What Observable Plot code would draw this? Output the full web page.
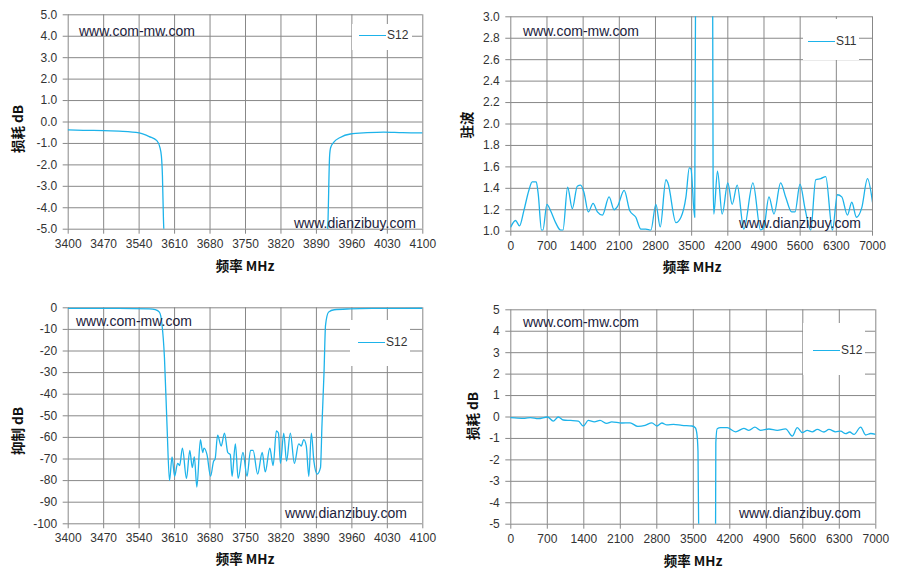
<!DOCTYPE html>
<html><head><meta charset="utf-8">
<script src="https://cdn.jsdelivr.net/npm/d3@7"></script>
<script src="https://cdn.jsdelivr.net/npm/@observablehq/plot@0.6"></script>
<style>
html,body{margin:0;padding:0;background:#fff;}
#root{position:relative;width:899px;height:578px;background:#fff;overflow:hidden;font-family:"Liberation Sans",Arial,sans-serif;}
.pan{position:absolute;}
.wm{position:absolute;font-family:"Liberation Sans",Arial,sans-serif;font-size:14px;color:#1c1c3c;white-space:nowrap;line-height:1;}
.leg{position:absolute;background:#fff;}
.leg .ln{position:absolute;height:0;border-top:1.3px solid #1DB3EA;}
.leg .tx{position:absolute;font-size:12px;color:#333;line-height:1;}
.xt{position:absolute;font-weight:bold;font-size:13.5px;color:#111;white-space:nowrap;font-family:"Noto Sans CJK SC","Liberation Sans",sans-serif;line-height:1;transform:translate(-50%,-50%);}
.yt{position:absolute;font-weight:bold;font-size:13.5px;color:#111;white-space:nowrap;font-family:"Noto Sans CJK SC","Liberation Sans",sans-serif;line-height:1;transform:translate(-50%,-50%) rotate(-90deg);}
</style></head>
<body><div id="root"></div>
<script>
// ---- tick labels ----
const xTicksNarrow = [3400,3470,3540,3610,3680,3750,3820,3890,3960,4030,4100];
const xTicksWide = [0,700,1400,2100,2800,3500,4200,4900,5600,6300,7000];
const yTicksLoss = [-5,-4,-3,-2,-1,0,1,2,3,4,5];
const yTicksVswr = [1.0,1.2,1.4,1.6,1.8,2.0,2.2,2.4,2.6,2.8,3.0];
const yTicksRej = [-100,-90,-80,-70,-60,-50,-40,-30,-20,-10,0];

// ---- panel 1: S12 insertion loss, 3400-4100 MHz ----
const p1Freq = [3400,3430,3470,3500,3540,3560,3575,3581,3584,3586,3588,3590,3600, 3900,3911,3913,3916,3918,3924,3937,3957,3990,4023,4060,4100];
const p1S12  = [-0.37,-0.39,-0.40,-0.43,-0.51,-0.68,-0.87,-1.18,-1.6,-2.5,-4.5,-6,-40, -40,-6,-4.5,-1.6,-1.2,-0.95,-0.72,-0.56,-0.5,-0.47,-0.5,-0.51];

// ---- panel 2: S11 VSWR, 0-7000 MHz ----
const p2Freq = [0,91,168,252,349,414,492,530,595,621,699,770,867,964,1009,1100,1190,1287,1352,1417,1501,1592,1676,1773,1902,2000,2064,2194,2303,2420,2517,2614,2711,2808,2892,3002,3041,3196,3293,3390,3455,3487,3559,3578,3590,3890,3905,3915,3929,4000,4091,4200,4284,4381,4510,4686,4834,4899,4996,5093,5222,5319,5435,5500,5597,5694,5804,5901,5998,6095,6224,6321,6405,6515,6599,6690,6793,6903,7000];
const p2S11  = [1.04,1.10,1.05,1.19,1.38,1.46,1.46,1.35,1.01,1.01,1.25,1.19,1.08,1.01,1.01,1.41,1.21,1.42,1.43,1.36,1.18,1.26,1.18,1.15,1.32,1.20,1.23,1.38,1.19,1.13,1.02,1.02,1.01,1.25,1.04,1.48,1.45,1.08,1.13,1.32,1.59,1.58,1.13,3.5,40,40,3.5,1.5,1.16,1.56,1.16,1.45,1.25,1.43,1.02,1.45,1.01,1.04,1.32,1.16,1.45,1.32,1.18,1.18,1.44,1.21,1.01,1.48,1.49,1.51,1.01,1.34,1.32,1.15,1.27,1.13,1.22,1.49,1.27];

// ---- panel 3: S12 rejection, 3400-4100 MHz ----
const p3Freq = [3400,3500,3560,3572,3580,3585,3590,3595,3600,3605,3610,3616,3620,3625.5,3633.5,3640,3645,3649,3654,3661,3665.5,3668,3674,3681,3687,3690,3695,3702,3708.5,3715,3720,3723.5,3730,3735.5,3745,3753,3760,3765,3774,3783,3789,3798,3804.5,3811,3815,3819,3825.5,3831,3838.5,3846.5,3855,3860,3865,3870,3875,3880,3885,3891.5,3898,3901,3905,3908,3914,3925,3957,4000,4100];
const p3S12  = [-0.3,-0.3,-0.5,-0.9,-2,-7.4,-23,-54,-80,-69,-78,-72,-73,-65,-79,-66,-74,-69,-83,-61,-67,-65,-68,-78,-71,-70,-59,-64,-58,-67,-68,-78,-63,-79,-67,-78,-66,-66,-77,-67,-76,-65,-73,-57,-58,-72,-58,-71,-58,-72,-63,-64,-61,-64,-78,-58,-71,-77,-74,-54,-30,-8,-2,-0.9,-0.5,-0.3,-0.2];

// ---- panel 4: S12 insertion loss, 0-7000 MHz ----
const p4Freq = [0,130,269,378,526,705,814,910,1006,1150,1295,1391,1487,1602,1711,1840,1936,2128,2288,2436,2577,2705,2801,2897,2993,3122,3282,3474,3538,3570,3590,3606,3620,3910,3926,3932,3958,4022,4150,4310,4470,4566,4681,4790,4950,5110,5270,5398,5494,5590,5686,5782,5878,6006,6102,6230,6326,6422,6499,6582,6710,6806,6902,7000];
const p4S12  = [-0.03,-0.05,-0.06,-0.03,-0.08,0,-0.19,0,-0.14,-0.16,-0.19,-0.42,-0.16,-0.23,-0.16,-0.3,-0.23,-0.28,-0.27,-0.44,-0.39,-0.27,-0.42,-0.28,-0.37,-0.34,-0.39,-0.42,-0.5,-0.81,-1.6,-6,-40,-40,-6,-1.2,-0.55,-0.5,-0.5,-0.69,-0.53,-0.62,-0.47,-0.62,-0.56,-0.62,-0.55,-0.89,-0.5,-0.73,-0.62,-0.69,-0.58,-0.7,-0.58,-0.69,-0.66,-0.78,-0.7,-0.81,-0.47,-0.84,-0.77,-0.81];

const LINE = "#1DB3EA", GRID = "#888", TXT = "#333";
const root = document.getElementById("root");

function panel(cfg) {
  const data = cfg.freq.map((f, i) => ({f, v: cfg.vals[i]}));
  const svg = Plot.plot({
    width: cfg.w, height: 260,
    marginLeft: cfg.mL, marginRight: cfg.mR, marginTop: cfg.mT, marginBottom: cfg.mB,
    style: {fontFamily: '"Liberation Sans", Arial, sans-serif', fontSize: "12px", background: "transparent", color: TXT},
    x: {domain: cfg.xDomain, label: null},
    y: {domain: cfg.yDomain, label: null},
    marks: [
      Plot.gridX(cfg.xTicks, {stroke: GRID, strokeOpacity: 1, strokeWidth: 1}),
      Plot.gridY(cfg.yTicks, {stroke: GRID, strokeOpacity: 1, strokeWidth: 1}),
      Plot.axisX(cfg.xTicks, {tickSize: 5, tickPadding: 5, stroke: GRID, fill: TXT, tickFormat: d => String(d), label: null}),
      Plot.axisY(cfg.yTicks, {tickSize: 5, tickPadding: 6, stroke: GRID, fill: TXT, tickFormat: cfg.yFmt, label: null}),
      Plot.lineY(data, {x: "f", y: "v", stroke: LINE, strokeWidth: 1.3, curve: "monotone-x", clip: true})
    ]
  });
  const wrap = document.createElement("div");
  wrap.className = "pan";
  wrap.style.left = cfg.left + "px"; wrap.style.top = cfg.top + "px";
  wrap.appendChild(svg);
  root.appendChild(wrap);

  // legend
  const lg = document.createElement("div");
  lg.className = "leg";
  Object.assign(lg.style, {left: cfg.leg[0] + "px", top: cfg.leg[1] + "px", width: cfg.leg[2] + "px", height: cfg.leg[3] + "px"});
  lg.innerHTML = `<div class="ln" style="left:${cfg.leg[4]}px;top:${cfg.leg[5]}px;width:27px"></div><div class="tx" style="left:${cfg.leg[4] + 28}px;top:${cfg.leg[5] - 6}px">${cfg.name}</div>`;
  root.appendChild(lg);

  // watermarks
  for (const [t, x, y] of cfg.wm) {
    const d = document.createElement("div");
    d.className = "wm"; d.textContent = t;
    d.style.left = x + "px"; d.style.top = y + "px";
    root.appendChild(d);
  }
  // axis titles
  const xt = document.createElement("div");
  xt.className = "xt"; xt.textContent = "频率 MHz";
  xt.style.left = cfg.xt[0] + "px"; xt.style.top = cfg.xt[1] + "px";
  root.appendChild(xt);
  const yt = document.createElement("div");
  yt.className = "yt"; yt.textContent = cfg.ytitle;
  yt.style.left = cfg.yt[0] + "px"; yt.style.top = cfg.yt[1] + "px";
  root.appendChild(yt);
}

const f1 = d => d.toFixed(1);
const f0 = d => String(d);

panel({left: 0, top: 0, w: 450, mL: 67.7, mR: 27.7, mT: 14.3, mB: 31.3,
  freq: p1Freq, vals: p1S12, xDomain: [3400, 4100], yDomain: [-5, 5],
  xTicks: xTicksNarrow, yTicks: yTicksLoss, yFmt: f1, name: "S12",
  leg: [352, 24, 60, 26, 7, 11],
  wm: [["www.com-mw.com", 79, 24], ["www.dianzibuy.com", 294, 216]],
  xt: [245, 266], yt: [18, 129], ytitle: "损耗 dB"});

panel({left: 450, top: 0, w: 449, mL: 60.3, mR: 27, mT: 16.3, mB: 29.3,
  freq: p2Freq, vals: p2S11, xDomain: [0, 7000], yDomain: [1, 3],
  xTicks: xTicksWide, yTicks: yTicksVswr, yFmt: f1, name: "S11",
  leg: [803, 19, 56, 41, 5, 22],
  wm: [["www.com-mw.com", 523, 24], ["www.dianzibuy.com", 739, 216]],
  xt: [692, 267], yt: [467, 125], ytitle: "驻波"});

panel({left: 0, top: 290, w: 450, mL: 67.7, mR: 27.7, mT: 17.3, mB: 26.7,
  freq: p3Freq, vals: p3S12, xDomain: [3400, 4100], yDomain: [-100, 0],
  xTicks: xTicksNarrow, yTicks: yTicksRej, yFmt: f0, name: "S12",
  leg: [350, 320, 60, 46, 8, 22],
  wm: [["www.com-mw.com", 76, 314], ["www.dianzibuy.com", 285, 506]],
  xt: [245, 559], yt: [18, 431], ytitle: "抑制 dB"});

panel({left: 450, top: 290, w: 449, mL: 60.3, mR: 23.7, mT: 19.3, mB: 26.3,
  freq: p4Freq, vals: p4S12, xDomain: [0, 7000], yDomain: [-5, 5],
  xTicks: xTicksWide, yTicks: yTicksLoss, yFmt: f0, name: "S12",
  leg: [803, 323, 62, 52, 10, 27],
  wm: [["www.com-mw.com", 523, 315], ["www.dianzibuy.com", 739, 506]],
  xt: [693, 561], yt: [473, 416], ytitle: "损耗 dB"});
</script>
</body></html>
